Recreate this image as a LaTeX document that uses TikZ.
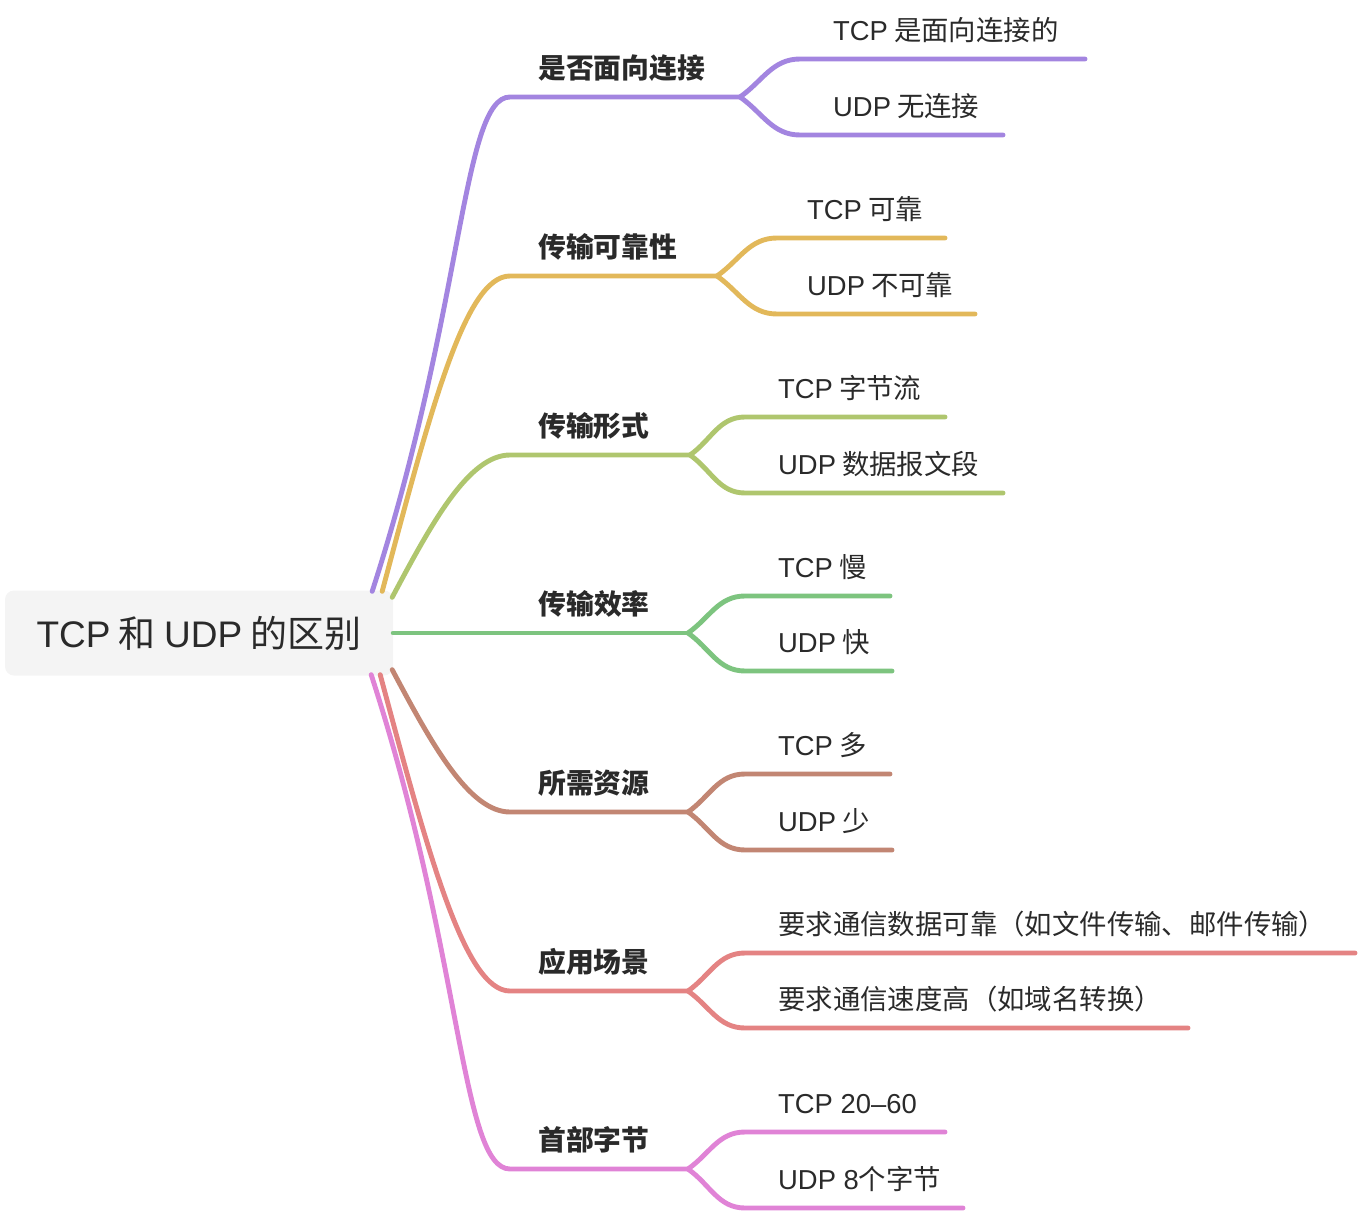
\documentclass[tikz,border=0pt]{standalone}
\usepackage{fontspec}
\setmainfont{Noto Sans CJK SC}
\newfontfamily\latfont{Liberation Sans}
\usepackage{tikz}
\usetikzlibrary{positioning}
\usetikzlibrary{calc}
\definecolor{ink}{HTML}{2A2A2A}
\definecolor{rootgray}{HTML}{F4F4F4}
\definecolor{cPurple}{HTML}{A385E0}
\definecolor{cYellow}{HTML}{E2B85A}
\definecolor{cGreen}{HTML}{AFC66E}
\definecolor{cMint}{HTML}{7DC47F}
\definecolor{cBrown}{HTML}{C28673}
\definecolor{cRed}{HTML}{E48383}
\definecolor{cPink}{HTML}{E083D6}
\tikzset{
    root/.style={
           rectangle,
           rounded corners=9pt,
           fill=rootgray,
           minimum width=388pt,
           minimum height=85pt,
           inner sep=0pt,
           text=ink,
           font=\fontsize{37}{44}\selectfont
           },
    topic/.style={
           inner sep=0pt,
           text height=21.6pt,
           text depth=2.7pt,
           text=ink,
           font=\fontsize{27.8}{32}\selectfont\bfseries
           },
    leaf/.style={
           inner sep=0pt,
           text height=21.6pt,
           text depth=2.7pt,
           text=ink,
           font=\fontsize{27.4}{32}\selectfont
           },
    wire/.style={
           line width=4.9pt,
           line cap=round
           },
}
\begin{document}
\begin{tikzpicture}[x=1pt, y=-1pt]
  \useasboundingbox (0,0) rectangle (1358,1212);
  \node[root] (root) at (199,633) {{\latfont TCP} 和 {\latfont UDP} 的区别};

  % where the branches leave the root
  \coordinate (s1) at ($(root.north east)+(-21,1)$);
  \coordinate (s2) at ($(root.north east)+(-11,1)$);
  \coordinate (s3) at ($(root.north east)+(-1,7)$);
  \coordinate (s4) at (root.east);
  \coordinate (s5) at ($(root.south east)+(-1,-6)$);
  \coordinate (s6) at ($(root.south east)+(-13,-1)$);
  \coordinate (s7) at ($(root.south east)+(-22,-1)$);

  % 是否面向连接
  \coordinate (h1) at (510,97);   \coordinate (j1) at (740,97);
  \coordinate (c1a) at (800,59);  \coordinate (e1a) at (1085,59);
  \coordinate (c1b) at (800,135); \coordinate (e1b) at (1003,135);
  % 传输可靠性
  \coordinate (h2) at (510,276);  \coordinate (j2) at (717,276);
  \coordinate (c2a) at (777,238); \coordinate (e2a) at (945,238);
  \coordinate (c2b) at (777,314); \coordinate (e2b) at (975,314);
  % 传输形式
  \coordinate (h3) at (510,455);  \coordinate (j3) at (690,455);
  \coordinate (c3a) at (745,417); \coordinate (e3a) at (945,417);
  \coordinate (c3b) at (745,493); \coordinate (e3b) at (1003,493);
  % 传输效率
  \coordinate (j4) at (688,633);
  \coordinate (c4a) at (745,596); \coordinate (e4a) at (890,596);
  \coordinate (c4b) at (745,671); \coordinate (e4b) at (892,671);
  % 所需资源
  \coordinate (h5) at (510,812);  \coordinate (j5) at (688,812);
  \coordinate (c5a) at (745,774); \coordinate (e5a) at (890,774);
  \coordinate (c5b) at (745,850); \coordinate (e5b) at (892,850);
  % 应用场景
  \coordinate (h6) at (510,991);  \coordinate (j6) at (688,991);
  \coordinate (c6a) at (745,953); \coordinate (e6a) at (1355,953);
  \coordinate (c6b) at (745,1028); \coordinate (e6b) at (1188,1028);
  % 首部字节
  \coordinate (h7) at (510,1169); \coordinate (j7) at (688,1169);
  \coordinate (c7a) at (745,1132); \coordinate (e7a) at (945,1132);
  \coordinate (c7b) at (745,1208); \coordinate (e7b) at (963,1208);

  \node[topic, above right=16pt and 28pt of h1] (t1) {是否面向连接};
  \node[topic, above right=16pt and 28pt of h2] (t2) {传输可靠性};
  \node[topic, above right=16pt and 28pt of h3] (t3) {传输形式};
  \node[topic, above right=16pt and 145pt of s4] (t4) {传输效率};
  \node[topic, above right=16pt and 28pt of h5] (t5) {所需资源};
  \node[topic, above right=16pt and 28pt of h6] (t6) {应用场景};
  \node[topic, above right=16pt and 28pt of h7] (t7) {首部字节};

  \node[leaf, above right=16pt and 33pt of c1a] (l1a) {{\latfont TCP} 是面向连接的};
  \node[leaf, above right=16pt and 33pt of c1b] (l1b) {{\latfont UDP} 无连接};
  \node[leaf, above right=16pt and 30pt of c2a] (l2a) {{\latfont TCP} 可靠};
  \node[leaf, above right=16pt and 30pt of c2b] (l2b) {{\latfont UDP} 不可靠};
  \node[leaf, above right=16pt and 33pt of c3a] (l3a) {{\latfont TCP} 字节流};
  \node[leaf, above right=16pt and 33pt of c3b] (l3b) {{\latfont UDP} 数据报文段};
  \node[leaf, above right=16pt and 33pt of c4a] (l4a) {{\latfont TCP} 慢};
  \node[leaf, above right=16pt and 33pt of c4b] (l4b) {{\latfont UDP} 快};
  \node[leaf, above right=16pt and 33pt of c5a] (l5a) {{\latfont TCP} 多};
  \node[leaf, above right=16pt and 33pt of c5b] (l5b) {{\latfont UDP} 少};
  \node[leaf, above right=16pt and 33pt of c6a] (l6a) {要求通信数据可靠（如文件传输、邮件传输）};
  \node[leaf, above right=16pt and 33pt of c6b] (l6b) {要求通信速度高（如域名转换）};
  \node[leaf, above right=16pt and 33pt of c7a] (l7a) {{\latfont TCP 20–60}};
  \node[leaf, above right=16pt and 33pt of c7b] (l7b) {{\latfont UDP 8}个字节};

  \draw[wire, cPurple] (s1) to[out=72, in=180, out distance=296pt, in distance=48pt] (h1) -- (j1);
  \draw[wire, cPurple] (j1) to[out=35, in=180] (c1a) -- (e1a);
  \draw[wire, cPurple] (j1) to[out=-35, in=180] (c1b) -- (e1b);

  \draw[wire, cYellow] (s2) to[out=75, in=180, out distance=188pt, in distance=45pt] (h2) -- (j2);
  \draw[wire, cYellow] (j2) to[out=35, in=180] (c2a) -- (e2a);
  \draw[wire, cYellow] (j2) to[out=-35, in=180] (c2b) -- (e2b);

  \draw[wire, cGreen] (s3) to[out=62, in=180, out distance=85pt, in distance=41pt] (h3) -- (j3);
  \draw[wire, cGreen] (j3) to[out=35, in=180] (c3a) -- (e3a);
  \draw[wire, cGreen] (j3) to[out=-35, in=180] (c3b) -- (e3b);

  \draw[wire, cMint] (s4) -- (j4);
  \draw[wire, cMint] (j4) to[out=35, in=180] (c4a) -- (e4a);
  \draw[wire, cMint] (j4) to[out=-35, in=180] (c4b) -- (e4b);

  \draw[wire, cBrown] (s5) to[out=-62, in=180, out distance=84pt, in distance=41pt] (h5) -- (j5);
  \draw[wire, cBrown] (j5) to[out=35, in=180] (c5a) -- (e5a);
  \draw[wire, cBrown] (j5) to[out=-35, in=180] (c5b) -- (e5b);

  \draw[wire, cRed] (s6) to[out=-75, in=180, out distance=188pt, in distance=45pt] (h6) -- (j6);
  \draw[wire, cRed] (j6) to[out=35, in=180] (c6a) -- (e6a);
  \draw[wire, cRed] (j6) to[out=-35, in=180] (c6b) -- (e6b);

  \draw[wire, cPink] (s7) to[out=-72, in=180, out distance=295pt, in distance=49pt] (h7) -- (j7);
  \draw[wire, cPink] (j7) to[out=35, in=180] (c7a) -- (e7a);
  \draw[wire, cPink] (j7) to[out=-35, in=180] (c7b) -- (e7b);
\end{tikzpicture}
\end{document}
